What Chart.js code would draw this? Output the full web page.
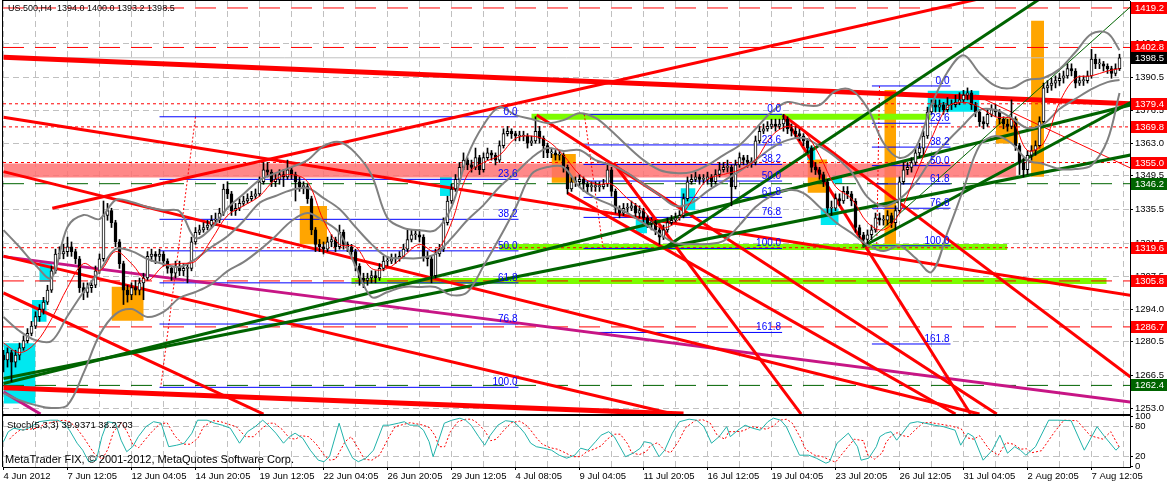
<!DOCTYPE html>
<html>
<head>
<meta charset="utf-8">
<script src="https://cdn.jsdelivr.net/npm/chart.js@4.4.1/dist/chart.umd.min.js"></script>
<style>
html, body { margin: 0; padding: 0; background: #fff; }
#wrap { width: 1167px; height: 483px; }
</style>
</head>
<body>
<div id="wrap"><canvas id="c" width="1167" height="483"></canvas></div>
<script>
// US.500 H4
const dateLabels = ['4 Jun 2012', '7 Jun 12:05', '12 Jun 04:05', '14 Jun 20:05', '19 Jun 12:05', '22 Jun 04:05',
  '26 Jun 20:05', '29 Jun 12:05', '4 Jul 08:05', '9 Jul 04:05', '11 Jul 20:05', '16 Jul 12:05', '19 Jul 04:05',
  '23 Jul 20:05', '26 Jul 12:05', '31 Jul 04:05', '2 Aug 20:05', '7 Aug 12:05'];
const priceTicks = [1253.0, 1266.5, 1280.5, 1294.0, 1307.5, 1321.5, 1335.5, 1349.5, 1363.0, 1376.5, 1390.5, 1404.5];
const stochTicks = [0, 20, 80, 100];

const firstOpen = 1275;
const closes = [
  1273,1276,1272,1275,1278,1281,1284,1287,1291,1294, 1297,1302,1310,1317,1317,1318,1320,1318,1315,1303,
  1301,1303,1304,1310,1315,1333,1335,1330,1322,1313, 1302,1300,1303,1302,1305,1307,1316,1317,1316,1317,
  1314,1311,1309,1312,1310,1311,1311,1322,1326,1327, 1328,1329,1331,1331,1334,1344,1342,1335,1336,1338,
  1339,1340,1341,1342,1347,1352,1351,1347,1348,1350, 1349,1352,1350,1347,1345,1345,1340,1327,1321,1320,
  1319,1322,1323,1320,1326,1321,1320,1318,1312,1307, 1306,1307,1308,1307,1311,1314,1314,1315,1315,1316,
  1319,1323,1325,1325,1324,1316,1315,1308,1317,1319, 1330,1339,1344,1348,1353,1356,1354,1353,1357,1352,
  1357,1359,1358,1356,1362,1367,1368,1367,1366,1366, 1366,1363,1364,1368,1365,1362,1359,1359,1358,1358,
  1353,1344,1347,1347,1348,1346,1345,1345,1345,1345, 1346,1352,1343,1336,1334,1336,1336,1337,1334,1335,
  1332,1330,1330,1327,1324,1327,1330,1331,1332,1333, 1340,1347,1348,1349,1348,1348,1349,1347,1350,1352,
  1353,1353,1345,1354,1357,1356,1355,1355,1364,1368, 1369,1370,1371,1370,1371,1373,1369,1368,1367,1366,
  1364,1361,1353,1352,1350,1347,1336,1336,1340,1339, 1343,1342,1339,1328,1325,1323,1325,1327,1332,1331,
  1331,1333,1330,1335,1347,1352,1353,1355,1359,1361, 1366,1376,1379,1378,1379,1377,1379,1379,1380,1381,
  1383,1384,1379,1376,1372,1371,1375,1377,1376,1373, 1371,1370,1373,1362,1355,1352,1358,1360,1362,1372,
  1386,1387,1388,1389,1390,1391,1394,1393,1388,1389, 1389,1391,1398,1396,1396,1395,1394,1392,1394,1398.5
];
const highs = [
  1277,1278,1277,1277,1280,1283,1286,1289,1293,1296, 1299,1304,1312,1319,1320,1321,1324,1322,1319,1316,
  1305,1305,1306,1312,1317,1339,1338,1336,1331,1323, 1314,1304,1305,1306,1307,1309,1318,1319,1318,1319,
  1318,1315,1312,1314,1314,1313,1313,1324,1328,1329, 1330,1331,1333,1334,1336,1346,1347,1343,1338,1340,
  1341,1342,1343,1344,1349,1355,1355,1352,1350,1352, 1352,1356,1353,1351,1349,1347,1346,1341,1328,1323,
  1322,1324,1325,1324,1329,1327,1322,1321,1319,1313, 1309,1309,1310,1310,1313,1316,1316,1317,1317,1318,
  1321,1327,1327,1327,1327,1325,1318,1316,1319,1321, 1332,1341,1346,1350,1355,1359,1357,1356,1361,1358,
  1359,1361,1360,1359,1364,1369,1370,1369,1368,1368, 1368,1367,1366,1374,1370,1366,1363,1361,1360,1360,
  1359,1354,1349,1349,1350,1349,1347,1347,1347,1347, 1348,1354,1353,1344,1337,1338,1338,1339,1338,1337,
  1336,1333,1332,1331,1328,1329,1332,1333,1334,1335, 1342,1349,1350,1351,1350,1350,1351,1350,1352,1355,
  1355,1356,1354,1356,1359,1358,1358,1357,1366,1370, 1371,1372,1373,1373,1373,1375,1374,1371,1370,1369,
  1367,1365,1362,1355,1353,1351,1348,1339,1342,1342, 1345,1345,1343,1340,1329,1326,1327,1329,1334,1334,
  1333,1335,1334,1337,1349,1355,1355,1357,1361,1363, 1368,1378,1381,1381,1381,1380,1382,1381,1383,1384,
  1385,1386,1385,1380,1377,1374,1377,1379,1379,1377, 1374,1373,1381,1374,1363,1357,1360,1362,1364,1374,
  1388,1389,1390,1391,1392,1393,1396,1396,1394,1391, 1391,1393,1402,1400,1398,1397,1396,1395,1396,1400
];
const lows = [
  1268,1270,1264,1270,1273,1277,1280,1283,1286,1289, 1292,1296,1301,1309,1315,1315,1316,1316,1313,1301,
  1298,1299,1301,1303,1309,1314,1331,1328,1320,1311, 1296,1297,1298,1300,1300,1298,1306,1314,1313,1314,
  1312,1309,1306,1307,1308,1308,1305,1310,1321,1325, 1326,1327,1328,1329,1330,1333,1340,1333,1333,1335,
  1337,1338,1339,1340,1341,1346,1349,1345,1345,1346, 1345,1348,1348,1339,1343,1342,1338,1325,1318,1318,
  1317,1318,1320,1318,1319,1319,1318,1316,1310,1304, 1303,1304,1305,1305,1306,1310,1312,1313,1313,1314,
  1315,1318,1322,1323,1322,1314,1312,1305,1307,1316, 1318,1329,1338,1343,1347,1352,1352,1351,1352,1350,
  1351,1356,1356,1354,1355,1361,1366,1365,1364,1364, 1364,1361,1362,1363,1363,1357,1357,1357,1356,1356,
  1351,1342,1343,1345,1345,1343,1342,1343,1343,1343, 1344,1345,1341,1334,1332,1333,1334,1335,1332,1332,
  1330,1328,1327,1325,1321,1323,1326,1329,1330,1331, 1332,1339,1346,1347,1346,1346,1346,1345,1346,1349,
  1351,1351,1337,1344,1353,1354,1353,1353,1354,1363, 1367,1368,1369,1368,1369,1368,1367,1366,1365,1364,
  1362,1359,1351,1350,1348,1345,1334,1333,1335,1337, 1338,1340,1337,1326,1323,1321,1321,1323,1326,1329,
  1329,1329,1328,1327,1334,1346,1350,1351,1354,1357, 1358,1365,1375,1376,1376,1375,1376,1377,1378,1379,
  1380,1381,1377,1374,1370,1369,1370,1374,1374,1371, 1369,1368,1369,1360,1350,1349,1350,1356,1358,1361,
  1371,1384,1385,1386,1387,1388,1390,1391,1386,1387, 1387,1388,1390,1394,1394,1393,1392,1390,1391,1393.2
];

// indicator curves, read every 4 bars
const bbBars = [0,4,8,12,16,20,24,28,32,36,40,44,48,52,56,60,64,68,72,76,80,84,88,92,96,100,104,108,112,116,
  120,124,128,132,136,140,144,148,152,156,160,164,168,172,176,180,184,188,192,196,200,204,208,212,216,220,
  224,228,232,236,240,244,248,252,256,260,264,268,272,276,279];
const bbUpper = [1326.9,1319.9,1312.4,1307.0,1328.2,1333.2,1331.5,1339.4,1338.6,1336.5,
  1335.2,1334.8,1323.6,1327.8,1336.1,1341.9,1347.7,1350.6,1353.1,1356.0,
  1361.8,1363.5,1358.9,1349.8,1331.9,1327.8,1326.9,1326.9,1336.5,1357.7,
  1370.6,1378.0,1374.7,1373.1,1371.4,1372.6,1375.5,1373.5,1368.1,1361.8,
  1356.0,1351.9,1350.6,1351.0,1353.9,1358.1,1362.2,1368.9,1376.0,1380.1,
  1378.9,1378.9,1384.7,1385.1,1377.6,1363.1,1356.9,1361.0,1378.9,1392.6,
  1399.6,1392.2,1386.8,1385.9,1389.3,1390.1,1393.8,1400.9,1408.4,1408.8,1401.7];
const bbMiddle = [1290.8,1285.0,1281.2,1280.8,1291.2,1301.2,1309.9,1319.0,1318.2,1314.9,
  1312.8,1311.6,1314.9,1319.9,1324.4,1330.7,1338.2,1341.1,1343.6,1344.4,
  1340.2,1335.7,1328.2,1321.1,1315.7,1315.3,1315.3,1317.0,1323.6,1331.1,
  1337.3,1344.8,1350.6,1356.9,1361.0,1359.8,1360.2,1356.0,1353.9,1350.6,
  1346.0,1341.5,1336.9,1338.2,1343.1,1347.3,1351.4,1356.0,1361.0,1364.3,
  1365.2,1361.8,1357.3,1351.0,1340.6,1336.9,1339.8,1346.5,1356.4,1363.9,
  1370.6,1376.8,1376.8,1373.5,1369.3,1371.0,1377.2,1381.4,1385.5,1388.4,1389.3];
const bbLower = [1259.2,1256.3,1254.2,1253.0,1254.2,1267.5,1283.3,1292.0,1294.1,1290.8,
  1292.9,1298.7,1301.2,1304.5,1309.9,1313.6,1318.6,1324.4,1330.7,1334.0,
  1330.7,1325.7,1312.0,1299.1,1301.2,1303.3,1303.3,1303.3,1299.9,1301.2,
  1312.0,1323.6,1336.1,1350.2,1353.1,1353.1,1344.8,1340.2,1337.3,1334.0,
  1329.8,1325.3,1321.5,1321.1,1321.1,1322.4,1329.0,1336.5,1341.1,1343.6,
  1342.3,1336.5,1330.3,1325.7,1320.7,1318.2,1320.3,1315.3,1309.5,1326.0,
  1344.0,1362.0,1366.0,1363.0,1356.0,1354.4,1352.3,1352.3,1353.9,1364.3,1383.9];
const maRed = [1280,1276,1280,1290,1303,1313,1310,1318,1313,1306,
  1312,1313,1314,1323,1333,1337,1341,1348,1350,1347,
  1331,1321,1320,1311,1311,1316,1321,1318,1330,1350,
  1355,1358,1365,1366,1364,1358,1350,1346,1346,1340,
  1335,1328,1330,1339,1348,1350,1352,1356,1366,1370,
  1368,1358,1345,1340,1330,1327,1334,1350,1365,1378,
  1380,1378,1374,1373,1360,1363,1380,1390,1391,1393,1394];

// Stochastic (5,3,3): [bar, value]
const stochK = [[0,50],[1.2,70],[2.6,77],[5,73],[6.9,80],[8.8,90],[11.7,93],[13.6,93],[15,87],[16.5,73],
  [18.4,47],[19.8,33],[21.3,10],[23.2,13],[24.6,60],[26,90],[28,87],[29.4,53],[30.8,30],[32.3,40],
  [33.7,60],[35.6,80],[37.5,90],[39.4,87],[41.3,40],[43.3,43],[45.2,47],[47.1,67],[48.5,93],[50.9,93],
  [52.8,87],[54.7,83],[56.7,77],[59,47],[61,70],[62.9,80],[64.8,93],[66.2,83],[68.1,67],[70,47],
  [71.5,60],[72.9,67],[74.8,57],[76.7,33],[78.7,13],[80.1,10],[81.5,20],[83.9,87],[85.4,47],[87.3,17],
  [88.7,10],[90.6,17],[92.5,33],[94.9,83],[96.4,83],[98.7,87],[100.2,90],[101.6,83],[103.5,83],[105,73],
  [106.4,50],[107.4,20],[108.8,53],[110.2,87],[112.1,93],[114.1,97],[115.5,93],[116.9,83],[118.8,60],[120.3,43],
  [121.7,63],[123.6,83],[125.5,92],[127.5,90],[128.9,80],[130.3,67],[131.8,47],[133.2,40],[135.1,37],[137,33],
  [138.9,23],[140.8,17],[142.8,23],[144.3,37],[146.1,33],[148,50],[149.4,63],[151.3,70],[152.7,60],[154.6,33],
  [155.5,20],[157.4,27],[159.2,37],[160.2,50],[162,47],[163.9,20],[165.3,33],[167.2,67],[169,90],[171.4,95],
  [173.3,93],[175.1,80],[177,47],[178.9,60],[180.8,80],[181.7,60],[183.6,73],[185.4,83],[187.3,77],[189.2,73],
  [191.1,90],[192.5,97],[194.3,93],[195.7,80],[197.6,47],[199,23],[201.3,23],[203.2,17],[205.6,7],[206.5,10],
  [208.4,47],[211.2,67],[213.5,40],[214.4,13],[216.3,17],[218.2,40],[219.1,60],[220.5,67],[221.9,70],[223.3,53],
  [224.7,67],[226.6,87],[228.5,90],[230.4,87],[232.7,83],[235,80],[237.9,73],[239.3,43],[241.1,67],[242.5,60],
  [244.9,13],[247.2,33],[249.1,63],[251,27],[252.8,40],[254.2,33],[255.6,23],[258,40],[261.3,93],[263.6,93],
  [266.9,92],[270.2,33],[273.4,80],[275.3,60],[278.1,33],[279,40]];
const stochD = [[1.5,55],[2.7,65],[4.1,73],[6.5,75],[8.4,77],[10.3,85],[13.2,91],[15.1,93],[16.5,90],[18,80],
  [19.9,60],[21.3,43],[22.8,25],[24.7,15],[26.1,35],[27.5,70],[29.5,88],[30.9,70],[32.3,45],[33.8,38],
  [35.2,52],[37.1,70],[39,85],[40.9,88],[42.8,62],[44.8,45],[46.7,45],[48.6,57],[50,80],[52.4,92],
  [54.3,90],[56.2,85],[58.2,80],[60.5,60],[62.5,60],[64.4,75],[66.3,87],[67.7,87],[69.6,75],[71.5,57],
  [73,55],[74.4,62],[76.3,60],[78.2,45],[80.2,23],[81.6,13],[83,15],[85.4,50],[86.9,60],[88.8,35],
  [90.2,15],[92.1,13],[94,23],[96.4,60],[97.9,80],[100.2,85],[101.7,88],[103.1,86],[105,83],[106.5,78],
  [107.9,62],[108.9,40],[110.3,40],[111.7,70],[113.6,90],[115.6,95],[117,95],[118.4,88],[120.3,72],[121.8,52],
  [123.2,55],[125.1,73],[127,88],[129,91],[130.4,85],[131.8,73],[133.3,57],[134.7,45],[136.6,38],[138.5,35],
  [140.4,28],[142.3,20],[144.3,20],[145.8,30],[147.6,35],[149.5,42],[150.9,55],[152.8,65],[154.2,65],[156.1,45],
  [157,28],[158.9,24],[160.7,30],[161.7,42],[163.5,48],[165.4,32],[166.8,28],[168.7,50],[170.5,78],[172.9,92],
  [174.8,94],[176.6,88],[178.5,62],[180.4,55],[181.3,70],[183.2,70],[185.1,72],[186.9,80],[188.8,78],[190.7,75],
  [192.6,82],[194,93],[195.8,95],[197.2,87],[199.1,60],[200.5,35],[202.8,23],[204.7,20],[207.1,12],[208,9],
  [209.9,28],[212.7,55],[215,52],[215.9,25],[217.8,15],[219.7,28],[220.6,48],[222,62],[223.4,68],[224.8,62],
  [226.2,60],[228.1,75],[230,88],[231.9,88],[234.2,85],[236.5,82],[239.4,76],[240.8,58],[242.6,55],[244,62],
  [246.4,35],[248.7,23],[250.6,48],[252.5,45],[254.3,35],[255.7,36],[257.1,28],[259.5,32],[262.8,70],[265.1,93],
  [268.4,92],[271.7,62],[274.9,55],[276.8,70],[279,38]];

// horizontal levels and right-hand price tags
const redDashLevels = [1419.2, 1402.8, 1305.8, 1286.7];
const redDotLevels = [1379.4, 1369.8, 1355.0, 1319.6];
const greenDashLevels = [1346.2, 1262.4];
const bidPrice = 1398.5;
const redTags = [1419.2, 1402.8, 1379.4, 1369.8, 1355.0, 1319.6, 1305.8, 1286.7];
const greenTags = [1346.2, 1262.4];

// trend lines: [[bar, price], [bar, price]]
const thickRedLines = [[[0,1398.7],[281.75,1379.4]], [[0,1261.4],[170,1250.5]]];
const redLines = [
  [[12.2,1336.0],[281.75,1437.2]], [[0,1373.8],[281.75,1299.8]], [[0,1351.2],[244,1250.5]],
  [[0,1316.1],[167.4,1250.5]], [[0,1300.8],[65,1250.5]], [[133.3,1374.7],[248.3,1250.5]],
  [[152.5,1354.8],[199.4,1250.5]], [[141,1342.3],[238,1250.5]],
  [[194.9,1374.7],[281.75,1265.9]], [[194.9,1374.7],[241.75,1250.5]]];
const thinRedLines = [[[243,1383.0],[281.75,1352.7]]];
const greenLines = [[[0,1263.2],[281.75,1378.9]], [[0,1265.3],[281.75,1358.1]],
  [[165.25,1319.5],[260,1424]], [[214.75,1320.0],[281.75,1379.9]]];
const thinGreenLines = [[[214.75,1320.0],[281.75,1419.7]]];
const magentaLines = [[[0,1315.9],[281.75,1255.5]], [[0,1259.6],[9.25,1250.5]]];
const limeBands = [[132,231.75,1374.0], [124,250.9,1319.9], [87,275.75,1305.8]];

// rectangles: [barFrom, barTo, priceTop, priceBottom]
const pinkBand = [0,253.2,1354.6,1348.8];
const cyanBoxes = [[0,8.0,1279.9,1254.9],[7.1,10.8,1297.9,1288.8],[8.95,12.2,1313.8,1305.5],
  [109.1,112.1,1349.1,1341.1],[158,160.9,1331.1,1325.6],[169.25,173,1344.3,1335.2],
  [200.9,203,1361.5,1356.0],[204.25,208.8,1335.9,1329.0],[207.2,209.7,1349.8,1346.3],[231,244,1384.8,1376.1]];
const orangeBoxes = [[27,35.05,1303.4,1289.3],[74,80.9,1336.9,1321.0],[137,143.1,1358.5,1346.6],
  [201,205.9,1356.3,1342.4],[220.2,223.15,1385.1,1320.7],[248.1,253.65,1373.3,1362.9],[256.9,260.15,1413.9,1349.1]];

// Fibonacci retracements
const fibRatios = ['0.0', '23.6', '38.2', '50.0', '61.8', '76.8', '100.0', '161.8'];
const fibs = [
  { from: 39, to: 128.75, prices: [1374.0,1348.0,1331.4,1318.3,1305.0,1287.9,1261.6], base: [[48,1374.0],[39.3,1261.6]] },
  { from: 145, to: 194.65, prices: [1375.0,1362.3,1354.2,1347.3,1340.5,1332.2,1319.3,1284.4], base: [[145.2,1375.0],[149.9,1319.3]] },
  { from: 217.1, to: 236.75, prices: [1386.8,1371.3,1361.4,1353.7,1346.1,1336.0,1320.4,1279.6], base: [[219,1386.8],[218.3,1320.4]] }
];

const X_MIN = -0.125, X_MAX = 281.625;
const PRICE_MIN = 1250.1, PRICE_MAX = 1422.1;

Chart.defaults.font.family = '"Liberation Sans", Arial, sans-serif';
Chart.defaults.font.size = 9.5;
Chart.defaults.color = '#000';

function seg(pts, color, width, dash, order) {
  return {
    type: 'line', data: pts.map(p => ({ x: p[0], y: p[1] })),
    borderColor: color, borderWidth: width, borderDash: dash || [],
    pointRadius: 0, fill: false, tension: 0, yAxisID: 'y', order: order
  };
}
function box(b, color, order) {
  return {
    type: 'line', data: [{ x: b[0], y: b[2] }, { x: b[1], y: b[2] }],
    borderColor: 'rgba(0,0,0,0)', borderWidth: 1, pointRadius: 0,
    fill: { value: b[3] }, backgroundColor: color, yAxisID: 'y', order: order
  };
}
function curve(values, color, width, order) {
  return {
    type: 'line', data: bbBars.map((b, k) => ({ x: b, y: values[k] })),
    borderColor: color, borderWidth: width, pointRadius: 0, fill: false,
    tension: 0.35, yAxisID: 'y', order: order
  };
}
// drop the label padding Chart.js reserves, so the panes fill the frame
function noPad(s) {
  s.paddingTop = 0; s.paddingBottom = 0; s.paddingLeft = 0; s.paddingRight = 0;
}

const datasets = [];
const opens = closes.map((c, i) => i === 0 ? firstOpen : closes[i - 1]);

// candles
datasets.push({
  type: 'bar', data: closes.map((c, i) => ({ x: i, y: [opens[i], c] })),
  backgroundColor: closes.map((c, i) => c >= opens[i] ? '#ffffff' : '#000000'),
  borderColor: '#000', borderWidth: 1, borderSkipped: false, barThickness: 3,
  minBarLength: 1, grouped: false, yAxisID: 'y', order: 10
});
datasets.push({
  type: 'bar', data: closes.map((c, i) => ({ x: i, y: [lows[i], highs[i]] })),
  backgroundColor: '#000', borderWidth: 0, barThickness: 1, grouped: false, yAxisID: 'y', order: 11
});

// indicators
datasets.push(curve(maRed, '#ff0000', 1, 8));
datasets.push(curve(bbUpper, '#808080', 2, 9));
datasets.push(curve(bbMiddle, '#808080', 2, 9));
datasets.push(curve(bbLower, '#808080', 2, 9));

// rectangles and bands (background)
datasets.push(box(pinkBand, 'rgba(255,110,110,0.82)', 90));
cyanBoxes.forEach(b => datasets.push(box(b, '#00e8f0', 91)));
orangeBoxes.forEach(b => datasets.push(box(b, '#ffa500', 92)));
limeBands.forEach(l => datasets.push(seg([[l[0], l[2]], [l[1], l[2]]], '#7cfc00', 6, [], 80)));

// horizontal levels
redDashLevels.forEach(p => datasets.push(seg([[X_MIN, p], [X_MAX, p]], '#ff0000', 1, [21, 11], 30)));
redDotLevels.forEach(p => datasets.push(seg([[X_MIN, p], [X_MAX, p]], '#ff0000', 1, [3, 3], 30)));
greenDashLevels.forEach(p => datasets.push(seg([[X_MIN, p], [X_MAX, p]], '#006400', 1, [21, 11], 30)));
datasets.push(seg([[X_MIN, bidPrice], [X_MAX, bidPrice]], '#c0c0c0', 1, [], 31));

// fibonacci lines
fibs.forEach(f => {
  f.prices.forEach(p => datasets.push(seg([[f.from, p], [f.to, p]], '#0000ff', 1, [], 25)));
  datasets.push(seg(f.base, '#ff0000', 1, [2, 2], 25));
});

// trend lines
thickRedLines.forEach(l => datasets.push(seg(l, '#ff0000', 5, [], 20)));
redLines.forEach(l => datasets.push(seg(l, '#ff0000', 3, [], 20)));
thinRedLines.forEach(l => datasets.push(seg(l, '#ff0000', 1, [], 20)));
greenLines.forEach(l => datasets.push(seg(l, '#006400', 3, [], 19)));
thinGreenLines.forEach(l => datasets.push(seg(l, '#006400', 1, [], 19)));
magentaLines.forEach(l => datasets.push(seg(l, '#c71585', 3, [], 21)));

// stochastic pane
datasets.push({ type: 'line', data: stochK.map(p => ({ x: p[0], y: p[1] })), borderColor: '#20b2aa',
  borderWidth: 1, pointRadius: 0, fill: false, tension: 0, yAxisID: 's', order: 5 });
datasets.push({ type: 'line', data: stochD.map(p => ({ x: p[0], y: p[1] })), borderColor: '#ff0000',
  borderWidth: 1, borderDash: [2, 2], pointRadius: 0, fill: false, tension: 0, yAxisID: 's', order: 6 });

const gridBars = [];
for (let b = 0; b <= 280; b += 8) gridBars.push(b);

const panes = {
  id: 'panes',
  beforeDatasetDraw(chart, args) {
    const ys = args.meta.yScale, a = chart.chartArea, ctx = chart.ctx;
    ctx.save();
    ctx.beginPath();
    ctx.rect(a.left, ys.top, a.right - a.left, ys.bottom - ys.top);
    ctx.clip();
  },
  afterDatasetDraw(chart) {
    chart.ctx.restore();
  },
  afterDatasetsDraw(chart) {
    const ctx = chart.ctx, sx = chart.scales.x, sy = chart.scales.y;
    ctx.save();
    ctx.font = '10px "Liberation Sans", Arial, sans-serif';
    ctx.fillStyle = '#0000ff';
    ctx.textAlign = 'right';
    ctx.textBaseline = 'alphabetic';
    fibs.forEach(f => {
      const xr = sx.getPixelForValue(f.to);
      f.prices.forEach((p, k) => ctx.fillText(fibRatios[k], xr - 1, sy.getPixelForValue(p) - 2));
    });
    ctx.restore();
  },
  afterDraw(chart) {
    const ctx = chart.ctx, a = chart.chartArea, sy = chart.scales.y, ss = chart.scales.s;
    ctx.save();
    ctx.fillStyle = '#000';
    ctx.fillRect(a.left - 1, 0, 1, a.bottom);
    ctx.fillRect(a.left - 1, 0, a.right - a.left + 1, 1);
    ctx.fillRect(a.left - 1, sy.bottom - 1, a.right - a.left + 1, 2);

    const tag = (p, color) => {
      const y = Math.round(sy.getPixelForValue(p));
      ctx.fillStyle = color;
      ctx.fillRect(a.right + 1, y - 6, 37, 12);
      ctx.fillStyle = '#fff';
      ctx.fillText(p.toFixed(1), a.right + 5, y + 0.5);
    };
    ctx.font = '9.5px "Liberation Sans", Arial, sans-serif';
    ctx.textAlign = 'left';
    ctx.textBaseline = 'middle';
    redTags.forEach(p => tag(p, '#ff0000'));
    greenTags.forEach(p => tag(p, '#006400'));
    tag(bidPrice, '#000000');

    ctx.fillStyle = '#000';
    ctx.textBaseline = 'top';
    ctx.font = '9px "Liberation Sans", Arial, sans-serif';
    ctx.fillText('US.500,H4  1394.0 1400.0 1393.2 1398.5', 8, 4);
    ctx.font = '9.5px "Liberation Sans", Arial, sans-serif';
    ctx.fillText('Stoch(5,3,3) 39.9371 38.2703', 7, ss.top + 6);
    ctx.font = '11px "Liberation Sans", Arial, sans-serif';
    ctx.textBaseline = 'alphabetic';
    ctx.fillText('MetaTrader FIX, \u00a9 2001-2012, MetaQuotes Software Corp.', 5, 463);
    ctx.restore();
  }
};

new Chart(document.getElementById('c'), {
  type: 'line',
  data: { datasets },
  options: {
    responsive: false,
    animation: false,
    events: [],
    layout: { padding: { left: 3, top: 1, right: 0, bottom: 0 } },
    plugins: { legend: { display: false }, tooltip: { enabled: false } },
    scales: {
      x: {
        type: 'linear', position: 'bottom', min: X_MIN, max: X_MAX, offset: false,
        afterBuildTicks: s => { s.ticks = gridBars.map(v => ({ value: v })); },
        afterFit: s => { s.height = 16; noPad(s); },
        grid: {
          color: '#c0c0c0', lineWidth: 1, offset: false, tickLength: 3,
          tickColor: c => (c.tick && c.tick.value % 16 === 0) ? '#000' : 'rgba(0,0,0,0)'
        },
        border: { color: '#000', width: 1, dash: [6, 4] },
        ticks: {
          autoSkip: false, maxRotation: 0, minRotation: 0, align: 'start', padding: 1,
          callback: v => v % 16 === 0 ? dateLabels[v / 16] : ''
        }
      },
      y: {
        type: 'linear', position: 'right', stack: 'pane', stackWeight: 414,
        min: PRICE_MIN, max: PRICE_MAX,
        afterBuildTicks: s => { s.ticks = priceTicks.map(v => ({ value: v })); },
        afterFit: s => { s.width = 37; noPad(s); },
        grid: { color: '#c0c0c0', lineWidth: 1, tickLength: 3, tickColor: '#000' },
        border: { color: '#000', width: 1, dash: [6, 4] },
        ticks: { autoSkip: false, padding: 2, callback: v => v.toFixed(1) }
      },
      s: {
        type: 'linear', position: 'right', stack: 'pane', stackWeight: 52,
        min: -0.6, max: 103.4,
        afterBuildTicks: s => { s.ticks = stochTicks.map(v => ({ value: v })); },
        afterFit: s => { s.width = 37; noPad(s); },
        grid: {
          lineWidth: 1, tickLength: 3, tickColor: '#000',
          color: c => (c.tick && (c.tick.value === 20 || c.tick.value === 80)) ? '#c0c0c0' : 'rgba(0,0,0,0)'
        },
        border: { color: '#000', width: 1, dash: [6, 4] },
        ticks: { autoSkip: false, padding: 2, callback: v => String(v) }
      }
    }
  },
  plugins: [panes]
});
</script>
</body>
</html>
